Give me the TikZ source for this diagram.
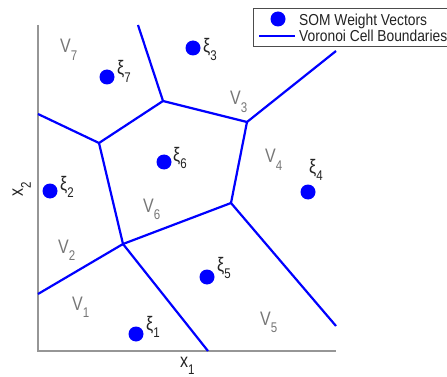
\documentclass[tikz,border=0pt]{standalone}
\usepackage{fontspec}
\setmainfont{Liberation Sans}
\definecolor{vblue}{RGB}{0,0,255}
\definecolor{lblgray}{RGB}{118,118,118}
\definecolor{txtdark}{RGB}{35,35,35}
\definecolor{axisgray}{RGB}{150,150,150}
\newcommand{\vstretch}[1]{\scalebox{1}[1.22]{#1}}
\newcommand{\lstretch}[1]{\scalebox{1}[1.15]{#1}}
\newcommand{\subx}[1]{\raisebox{-6.5pt}{\fontsize{11.5}{11.5}\selectfont #1}}
\tikzset{
  bline/.style={draw=vblue, line width=2.2pt},
  axisline/.style={draw=axisgray, line width=1.3pt},
  wdot/.style={circle, fill=vblue, inner sep=0pt, minimum size=15pt},
  vlab/.style={anchor=base west, inner sep=0pt, text=lblgray, font=\fontsize{16}{16}\selectfont},
  xlab/.style={anchor=base west, inner sep=0pt, text=txtdark, font=\fontsize{16}{16}\selectfont},
  leglab/.style={anchor=base west, inner sep=0pt, text=txtdark, font=\fontsize{13.8}{14}\selectfont},
}
\begin{document}
\begin{tikzpicture}[x=1pt, y=-1pt]
\useasboundingbox (0,0) rectangle (447,377);
\clip (0,0) rectangle (447,377);
\fill[white] (0,0) rectangle (447,377);
% axes
\coordinate (O) at (38,351);
\coordinate (Ytop) at (38,25);
\coordinate (Xend) at (336,351);
\draw[axisline] (Ytop) -- (O) -- (Xend);
% Voronoi vertices
\coordinate (T) at (138,25);
\coordinate (A) at (163,101);
\coordinate (B) at (99,143);
\coordinate (L1) at (38,114);
\coordinate (C) at (247,122);
\coordinate (R1) at (336,51);
\coordinate (D) at (231,203);
\coordinate (R2) at (336,326);
\coordinate (E) at (123,244);
\coordinate (L2) at (38,294);
\coordinate (Bt) at (208,351);
\draw[bline] (T) -- (A) -- (B) -- (L1);
\draw[bline] (A) -- (C) -- (R1);
\draw[bline] (C) -- (D) -- (R2);
\draw[bline] (B) -- (E) -- (D);
\draw[bline] (L2) -- (E) -- (Bt);
% weight vectors
\node[wdot] (p1) at (136,334) {};
\node[wdot] (p2) at (50,191) {};
\node[wdot] (p3) at (193,48) {};
\node[wdot] (p4) at (308,192) {};
\node[wdot] (p5) at (207,277) {};
\node[wdot] (p6) at (164,162) {};
\node[wdot] (p7) at (107,77) {};
% xi labels
\node[xlab] (k1) at (146,330) {\vstretch{ξ\subx{1}}};
\node[xlab] (k2) at (60,190) {\vstretch{ξ\subx{2}}};
\node[xlab] (k3) at (203,53) {\vstretch{ξ\subx{3}}};
\node[xlab] (k4) at (309,173) {\vstretch{ξ\subx{4}}};
\node[xlab] (k5) at (217,271) {\vstretch{ξ\subx{5}}};
\node[xlab] (k6) at (173,161) {\vstretch{ξ\subx{6}}};
\node[xlab] (k7) at (117,75) {\vstretch{ξ\subx{7}}};
% cell labels
\node[vlab] (v1) at (72,310) {\vstretch{V\subx{1}}};
\node[vlab] (v2) at (58,253) {\vstretch{V\subx{2}}};
\node[vlab] (v3) at (230,105) {\vstretch{V\subx{3}}};
\node[vlab] (v4) at (265,163) {\vstretch{V\subx{4}}};
\node[vlab] (v5) at (260,325) {\vstretch{V\subx{5}}};
\node[vlab] (v6) at (143,212) {\vstretch{V\subx{6}}};
\node[vlab] (v7) at (60,53) {\vstretch{V\subx{7}}};
% axis labels
\node[xlab] (ax1) at (180,367) {\vstretch{x\subx{1}}};
\node[xlab, rotate=90] (ax2) at (23,197) {\vstretch{x\subx{2}}};
% legend
\draw[fill=white, draw=black!70, line width=0.8pt] (253,8) rectangle (470,46);
\node[wdot] (legdot) at (278,19) {};
\coordinate (lgA) at (259,36);
\coordinate (lgB) at (295,36);
\draw[draw=vblue, line width=1.6pt] (lgA) -- (lgB);
\node[leglab] (leg1) at (299,26) {\lstretch{SOM Weight Vectors}};
\node[leglab] (leg2) at (299,42) {\lstretch{Voronoi Cell Boundaries}};
\end{tikzpicture}
\end{document}
